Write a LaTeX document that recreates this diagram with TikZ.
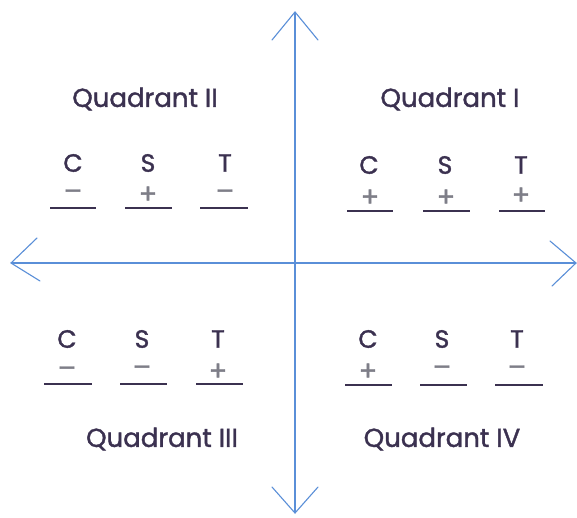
\documentclass[tikz,border=0pt]{standalone}
\usepackage{fontspec}
\setmainfont{Poppins}[FakeBold=1.4]
\begin{document}
\begin{tikzpicture}[x=1pt,y=-1pt,
  axis/.style={draw=axisblue, line width=1.1pt},
  barb/.style={draw=axisblue, line width=1.1pt, line cap=round},
  qlabel/.style={text=ink, font=\fontsize{26}{28}\selectfont, inner sep=0pt},
  fn/.style={text=ink, font=\fontsize{25}{28}\selectfont, inner sep=0pt},
  sgn/.style={text=signgray, font=\fontsize{27}{28}\selectfont, inner sep=0pt},
  uline/.style={draw=ink, line width=1.8pt}]
\definecolor{axisblue}{HTML}{5A8FD8}
\definecolor{ink}{HTML}{3B3150}
\definecolor{signgray}{HTML}{7E7E88}
\useasboundingbox[fill=white] (0,0) rectangle (577,517);
% axes
\coordinate (top) at (295,12);
\coordinate (bot) at (295,513);
\coordinate (lft) at (11,263);
\coordinate (rgt) at (576,263);
\draw[axis] (top) -- (bot);
\draw[axis] (lft) -- (rgt);
\draw[barb] (272,40) -- (top) -- (318,40);
\draw[barb] (272,487) -- (bot) -- (318,487);
\draw[barb] (37,238) -- (lft) -- (40,281);
\draw[barb] (550,241) -- (rgt) -- (552,286);
% quadrant labels
\node[qlabel] (q2) at (145,99) {Quadrant II};
\node[qlabel] (q1) at (450,99) {Quadrant I};
\node[qlabel] (q3) at (162,439) {Quadrant III};
\node[qlabel] (q4) at (442,439) {Quadrant IV};
% Quadrant II
\node[fn] (c2) at (73,163) {C};
\node[fn] (s2) at (148,163) {S};
\node[fn] (t2) at (225,163) {T};
\node[sgn] (c2s) at (73,195) {–};
\node[sgn] (s2s) at (148,195) {+};
\node[sgn] (t2s) at (225,195) {–};
\draw[uline] (50,208) -- (96,208);
\draw[uline] (125,208) -- (172,208);
\draw[uline] (200,208) -- (248,208);
% Quadrant I
\node[fn] (c1) at (369,165) {C};
\node[fn] (s1) at (445,165) {S};
\node[fn] (t1) at (521,165) {T};
\node[sgn] (c1s) at (370,198) {+};
\node[sgn] (s1s) at (446,198) {+};
\node[sgn] (t1s) at (521,196) {+};
\draw[uline] (347,211) -- (393,211);
\draw[uline] (423,211) -- (470,211);
\draw[uline] (499,211) -- (545,211);
% Quadrant III
\node[fn] (c3) at (67,339) {C};
\node[fn] (s3) at (142,339) {S};
\node[fn] (t3) at (218,339) {T};
\node[sgn] (c3s) at (67,372) {–};
\node[sgn] (s3s) at (142,371) {–};
\node[sgn] (t3s) at (218,372) {+};
\draw[uline] (44,384) -- (92,384);
\draw[uline] (120,384) -- (167,384);
\draw[uline] (196,384) -- (243,384);
% Quadrant IV
\node[fn] (c4) at (368,339) {C};
\node[fn] (s4) at (442,339) {S};
\node[fn] (t4) at (517,339) {T};
\node[sgn] (c4s) at (368,372) {+};
\node[sgn] (s4s) at (442,371) {–};
\node[sgn] (t4s) at (517,371) {–};
\draw[uline] (345,385) -- (392,385);
\draw[uline] (420,385) -- (467,385);
\draw[uline] (495,385) -- (543,385);
\end{tikzpicture}
\end{document}
